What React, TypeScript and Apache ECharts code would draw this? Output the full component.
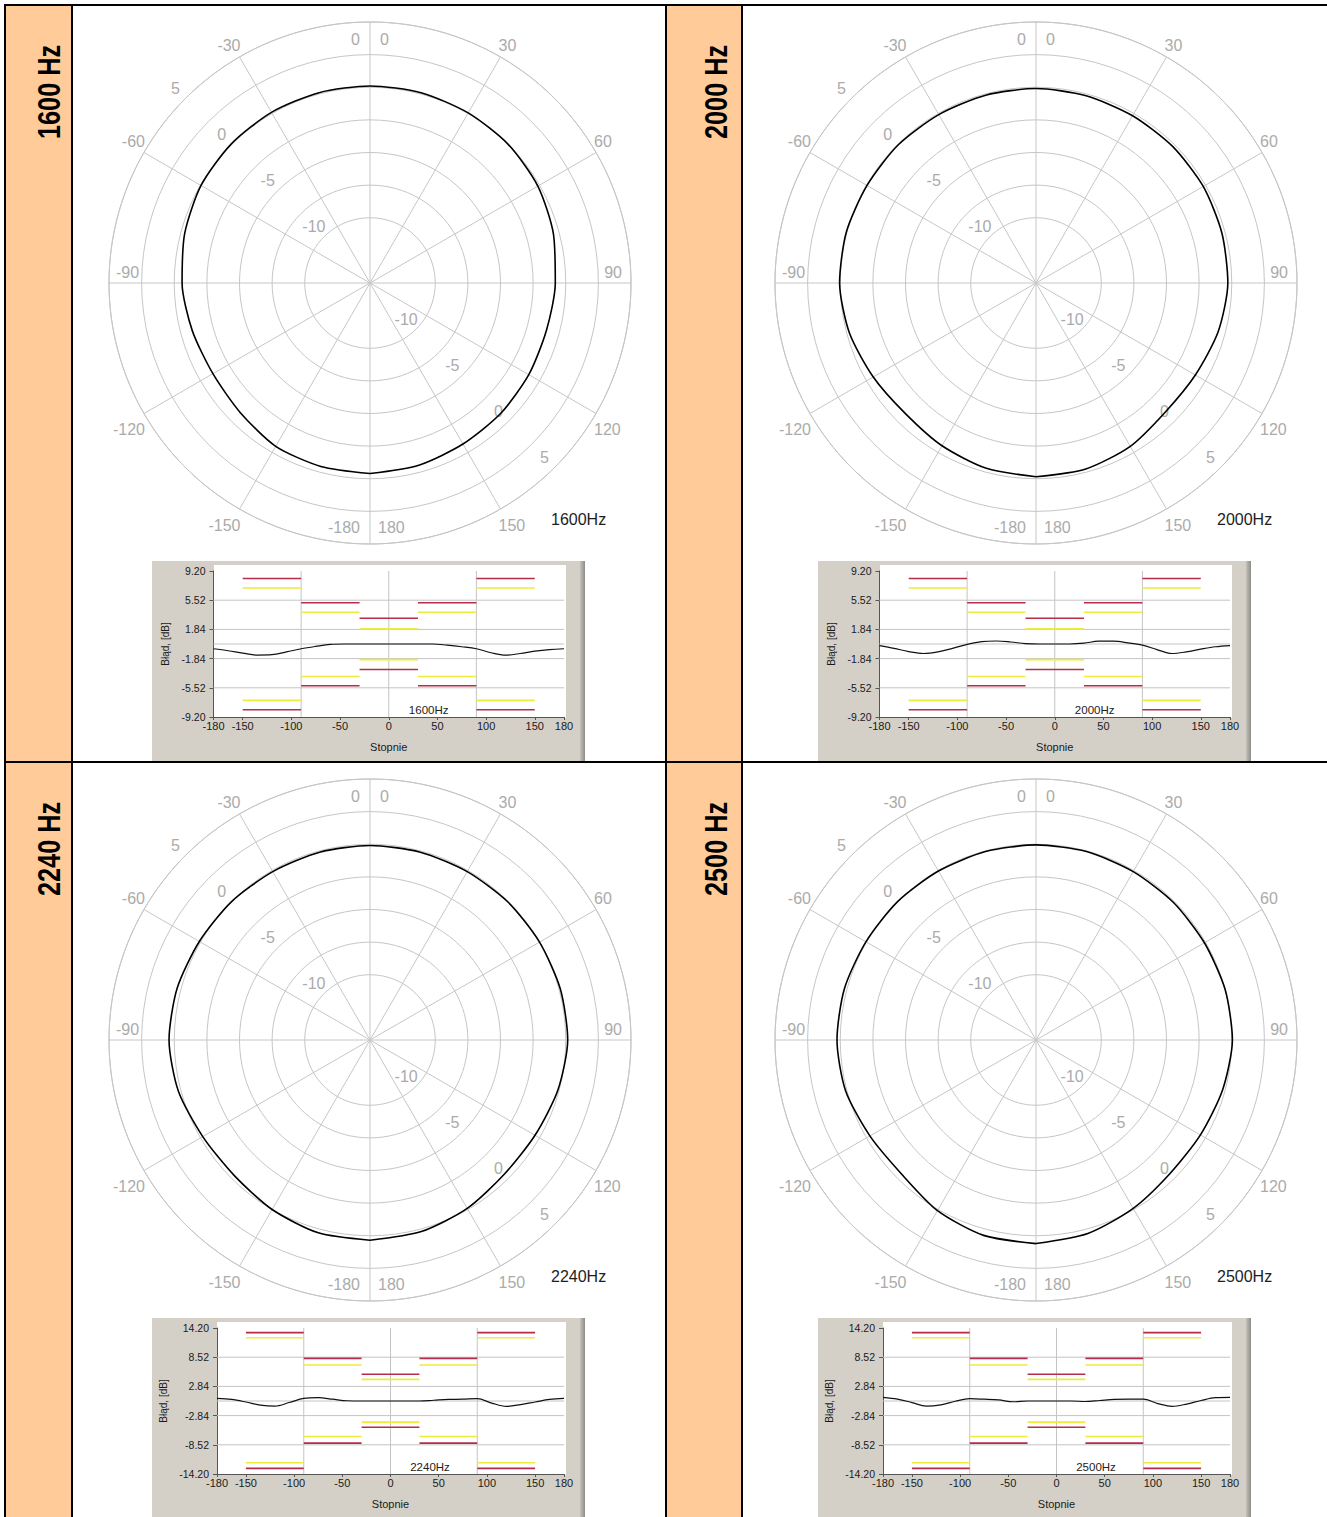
import React, { useEffect, useRef } from 'react';
import * as echarts from 'echarts';

// ---------- data ----------
const ANGLES = [-180, -165, -150, -135, -120, -105, -90, -75, -60, -45, -30, -15, 0, 15, 30, 45, 60, 75, 90, 105, 120, 135, 150, 165, 180];

const POLAR_1600 = [-0.4, -0.45, -0.55, -0.95, -1.1, -0.9, -0.6, -0.3, -0.05, 0.05, 0.1, 0.1, 0.1, 0.1, 0.05, 0.0, -0.15, -0.45, -0.8, -1.0, -0.95, -0.85, -0.75, -0.55, -0.4];
const POLAR_2000 = [-0.15, -0.3, -0.6, -0.85, -0.6, -0.2, 0.05, 0.05, -0.05, -0.05, -0.1, -0.1, -0.1, -0.15, -0.2, -0.2, -0.2, -0.25, -0.3, -0.55, -0.9, -1.0, -0.55, -0.25, -0.15];
const POLAR_2240 = [0.35, 0.3, 0.0, -0.3, -0.2, 0.2, 0.4, 0.3, 0.1, 0.0, -0.1, -0.1, -0.1, -0.1, -0.1, -0.05, 0.0, 0.1, 0.15, -0.1, -0.4, -0.45, -0.1, 0.2, 0.35];
const POLAR_2500 = [0.6, 0.5, 0.1, -0.45, -0.3, 0.1, 0.25, 0.2, 0.05, 0.0, -0.05, -0.05, -0.05, -0.05, -0.1, -0.1, -0.1, 0.0, 0.05, -0.2, -0.45, -0.5, -0.1, 0.35, 0.6];

const ERR_1600 = [-0.6, -0.85, -1.15, -1.4, -1.35, -1.0, -0.6, -0.3, -0.05, 0, 0, 0, 0, 0, 0, 0, -0.15, -0.35, -0.6, -1.1, -1.4, -1.2, -0.9, -0.7, -0.6];
const ERR_2000 = [-0.2, -0.55, -0.95, -1.2, -1.0, -0.55, -0.05, 0.3, 0.38, 0.25, 0.05, 0, 0, 0, 0.1, 0.35, 0.35, 0.15, -0.15, -0.7, -1.2, -1.0, -0.65, -0.35, -0.2];
const ERR_2240 = [0.5, 0.3, -0.2, -0.8, -1.0, -0.3, 0.5, 0.65, 0.35, 0.05, 0, 0, 0, 0, 0, 0.15, 0.3, 0.35, 0.45, -0.4, -1.05, -0.7, -0.2, 0.3, 0.5];
const ERR_2500 = [0.7, 0.35, -0.3, -1.0, -0.75, -0.05, 0.45, 0.35, 0.2, -0.15, 0, 0, 0, 0, -0.1, 0.1, 0.3, 0.35, 0.35, -0.5, -1.05, -0.6, 0.1, 0.65, 0.7];

const ANGLE_TICKS = [-150, -120, -90, -60, -30, 0, 30, 60, 90, 120, 150, 180];
const RING_LABELS = [-10, -5, 0, 5];
const X_TICKS = [-180, -150, -100, -50, 0, 50, 100, 150, 180];
const Y_TICKS_A = [-9.2, -5.52, -1.84, 1.84, 5.52, 9.2];
const Y_TICKS_B = [-14.2, -8.52, -2.84, 2.84, 8.52, 14.2];
const GRID_X = [-90, 0, 90];
const GRID_Y_A = [-5.52, -1.84, 0, 1.84, 5.52];
const GRID_Y_B = [-8.52, -2.84, 0, 2.84, 8.52];
const MASK_EDGES = [-150, -90, -30, 30, 90, 150];
const RED_UP_A = [8.25, 5.2, 3.25, 5.2, 8.25];
const YEL_UP_A = [7.05, 4.0, 1.9, 4.0, 7.05];
const YEL_LO_A = [-7.1, -4.1, -1.97, -4.1, -7.1];
const RED_LO_A = [-8.28, -5.27, -3.22, -5.27, -8.28];
const RED_UP_B = [13.3, 8.3, 5.2, 8.3, 13.3];
const YEL_UP_B = [12.3, 7.0, 4.2, 7.0, 12.3];
const YEL_LO_B = [-12.0, -6.9, -4.1, -6.9, -12.0];
const RED_LO_B = [-13.1, -8.2, -5.1, -8.2, -13.1];

const PANELS = [
  { freq: '1600', polar: POLAR_1600, err: ERR_1600, big: false, row: 0, col: 0 },
  { freq: '2000', polar: POLAR_2000, err: ERR_2000, big: false, row: 0, col: 1 },
  { freq: '2240', polar: POLAR_2240, err: ERR_2240, big: true, row: 1, col: 0 },
  { freq: '2500', polar: POLAR_2500, err: ERR_2500, big: true, row: 1, col: 1 },
];

// ---------- layout ----------
const FONT = 'Arial, "Liberation Sans", sans-serif';
const COLS = [{ x: 73, w: 592, tx: 33 }, { x: 743, w: 584, tx: 700 }];
const ROWS = [{ y: 6, h: 755 }, { y: 763, h: 754 }];
const R = 261;
const CY = 277;
const FRAME_T = 555;
const FRAME_W = 433;
const GRID_TOP_OFF = 10;
const GRID_H = 146;
const POLAR_GRID = '#c6c6c6';
const POLAR_LABEL = '#ababab';

function layout(w: number, big: boolean) {
  const cx = w / 2 + 1;
  const frameL = w / 2 - 217;
  const gLeft = frameL + (big ? 65 : 61.5);
  const gRight = frameL + 412;
  const gTop = FRAME_T + GRID_TOP_OFF;
  return { cx, frameL, gLeft, gRight, gTop };
}

function segs(vals: number[]) {
  const d: any[] = [];
  vals.forEach((v, i) => {
    d.push([MASK_EDGES[i], v], [MASK_EDGES[i + 1], v], [MASK_EDGES[i + 1], null]);
  });
  return d;
}

function txt(text: string, x: number, y: number, align: string, vAlign: string, color: string, size: number) {
  return {
    type: 'text',
    x,
    y,
    silent: true,
    style: {
      text,
      fill: color,
      fontSize: size,
      fontFamily: FONT,
      align,
      verticalAlign: vAlign,
      textAlign: align,
      textVerticalAlign: vAlign,
    },
  };
}

function buildOption(w: number, p: any) {
  const { cx, gLeft, gRight, gTop } = layout(w, p.big);
  const cy = CY;
  const yTicks = p.big ? Y_TICKS_B : Y_TICKS_A;
  const gridY = p.big ? GRID_Y_B : GRID_Y_A;
  const yMin = yTicks[0];
  const yMax = yTicks[yTicks.length - 1];
  const rad = Math.PI / 180;
  const toXY = (r: number, deg: number) => [cx + r * Math.sin(deg * rad), cy - r * Math.cos(deg * rad)];

  const graphics: any[] = [];
  ANGLE_TICKS.forEach((a) => {
    if (a === 0) {
      graphics.push(txt('0', cx - 10, cy - R + 9, 'right', 'top', POLAR_LABEL, 16));
      graphics.push(txt('0', cx + 10, cy - R + 9, 'left', 'top', POLAR_LABEL, 16));
    } else if (a === 180) {
      graphics.push(txt('-180', cx - 10, cy + R - 9, 'right', 'bottom', POLAR_LABEL, 16));
      graphics.push(txt('180', cx + 8, cy + R - 9, 'left', 'bottom', POLAR_LABEL, 16));
    } else if (a === 90) {
      graphics.push(txt('90', cx + R - 9, cy - 3, 'right', 'bottom', POLAR_LABEL, 16));
    } else if (a === -90) {
      graphics.push(txt('-90', cx - R + 7, cy - 3, 'left', 'bottom', POLAR_LABEL, 16));
    } else {
      const [px, py] = toXY(R, a);
      const s = Math.sin(a * rad);
      const c = Math.cos(a * rad);
      const align = s > 0 ? 'left' : 'right';
      const x = s > 0 ? px - 2 : px + 1;
      if (c > 0) graphics.push(txt(String(a), x, py - 3, align, 'bottom', POLAR_LABEL, 16));
      else graphics.push(txt(String(a), x, py + 8, align, 'top', POLAR_LABEL, 16));
    }
  });
  RING_LABELS.forEach((v) => {
    const r = ((v + 15) / 20) * R;
    [-45, 135].forEach((d) => {
      const [px, py] = toXY(r, d);
      graphics.push(txt(String(v), px - 10, py - 10, 'center', 'middle', POLAR_LABEL, 16));
    });
  });
  graphics.push(txt(p.freq + 'Hz', cx + 181, cy + 236, 'left', 'middle', '#1e1e1e', 16));
  const lx = gLeft + ((41 + 180) / 360) * (gRight - gLeft);
  graphics.push(txt(p.freq + 'Hz', lx, gTop + GRID_H - 7, 'center', 'middle', '#222', 11.5));

  const gridData: any[] = [];
  GRID_X.forEach((x) => gridData.push([x, yMin], [x, yMax], [x, null]));
  gridY.forEach((y) => gridData.push([-180, y], [180, y], [180, null]));

  const red = p.big ? segs(RED_UP_B).concat(segs(RED_LO_B)) : segs(RED_UP_A).concat(segs(RED_LO_A));
  const yel = p.big ? segs(YEL_UP_B).concat(segs(YEL_LO_B)) : segs(YEL_UP_A).concat(segs(YEL_LO_A));

  const axisText = { color: '#1a1a1a', fontSize: 11, fontFamily: FONT };

  return {
    animation: false,
    polar: { center: [cx, cy], radius: R },
    angleAxis: {
      type: 'value',
      min: -180,
      max: 180,
      interval: 30,
      startAngle: 270,
      clockwise: true,
      axisLine: { show: true, lineStyle: { color: POLAR_GRID, width: 1 } },
      axisTick: { show: false },
      axisLabel: { show: false },
      splitLine: { show: true, lineStyle: { color: POLAR_GRID, width: 1 } },
    },
    radiusAxis: {
      type: 'value',
      min: -15,
      max: 5,
      interval: 2.5,
      axisLine: { show: false },
      axisTick: { show: false },
      axisLabel: { show: false },
      splitLine: {
        show: true,
        lineStyle: {
          color: ['rgba(0,0,0,0)', 'rgba(0,0,0,0)', POLAR_GRID, POLAR_GRID, POLAR_GRID, POLAR_GRID, POLAR_GRID, POLAR_GRID, POLAR_GRID],
          width: 1,
        },
      },
    },
    grid: { left: gLeft, top: gTop, width: gRight - gLeft, height: GRID_H, show: false },
    xAxis: {
      type: 'value',
      min: -180,
      max: 180,
      name: 'Stopnie',
      nameLocation: 'middle',
      nameGap: 24,
      nameTextStyle: axisText,
      axisLine: { show: true, onZero: false, lineStyle: { color: '#555', width: 1 } },
      axisTick: { show: true, length: 3, customValues: X_TICKS, lineStyle: { color: '#555' } },
      axisLabel: { show: true, customValues: X_TICKS, margin: 3, ...axisText },
      splitLine: { show: false },
    },
    yAxis: {
      type: 'value',
      min: yMin,
      max: yMax,
      name: 'Błąd, [dB]',
      nameLocation: 'middle',
      nameGap: 36,
      nameTextStyle: { ...axisText, fontSize: 10 },
      axisLine: { show: true, onZero: false, lineStyle: { color: '#555', width: 1 } },
      axisTick: { show: true, length: 4, customValues: yTicks, lineStyle: { color: '#555' } },
      axisLabel: {
        show: true,
        customValues: yTicks,
        margin: 8,
        formatter: (v: number) => v.toFixed(2),
        ...axisText,
        fontSize: 10.5,
      },
      splitLine: { show: false },
    },
    graphic: graphics,
    series: [
      {
        type: 'line',
        coordinateSystem: 'polar',
        data: ANGLES.map((a, i) => [p.polar[i], a]),
        smooth: 0.25,
        symbol: 'none',
        lineStyle: { color: '#000', width: 1.6 },
        silent: true,
      },
      {
        type: 'line',
        data: gridData,
        symbol: 'none',
        lineStyle: { color: '#c4c4c4', width: 1 },
        silent: true,
      },
      {
        type: 'line',
        data: yel,
        symbol: 'none',
        lineStyle: { color: '#ecec3c', width: 1.6 },
        silent: true,
      },
      {
        type: 'line',
        data: red,
        symbol: 'none',
        lineStyle: { color: '#b52d4b', width: 1.6 },
        silent: true,
      },
      {
        type: 'line',
        data: ANGLES.map((a, i) => [a, p.err[i]]),
        smooth: 0.35,
        symbol: 'none',
        lineStyle: { color: '#111', width: 1.2 },
        silent: true,
      },
    ],
  };
}

function Cell({ p }: { p: any }) {
  const ref = useRef<HTMLDivElement>(null);
  const col = COLS[p.col];
  const row = ROWS[p.row];
  const { frameL, gLeft, gRight, gTop } = layout(col.w, p.big);
  useEffect(() => {
    const chart = echarts.init(ref.current as HTMLDivElement, null, { renderer: 'svg' });
    chart.setOption(buildOption(col.w, p));
    return () => chart.dispose();
  }, []);
  return (
    <div style={{ position: 'absolute', left: col.x, top: row.y, width: col.w, height: row.h, overflow: 'hidden' }}>
      <div style={{ position: 'absolute', left: frameL, top: FRAME_T, width: FRAME_W, height: row.h - FRAME_T, background: '#d4d0c8' }} />
      <div
        style={{
          position: 'absolute',
          left: frameL + FRAME_W - 5,
          top: FRAME_T,
          width: 5,
          height: row.h - FRAME_T,
          background: 'linear-gradient(to right, #c4c1ba, #8e8c88)',
        }}
      />
      <div
        style={{
          position: 'absolute',
          left: gLeft,
          top: FRAME_T + 4,
          width: gRight - gLeft + 2,
          height: gTop + GRID_H + 1 - (FRAME_T + 4),
          background: '#ffffff',
        }}
      />
      <div ref={ref} style={{ position: 'absolute', left: 0, top: 0, width: col.w, height: row.h }} />
    </div>
  );
}

function Title({ text, x, y }: { text: string; x: number; y: number }) {
  return (
    <div
      style={{
        position: 'absolute',
        left: x,
        top: y,
        transformOrigin: '0 0',
        transform: 'rotate(-90deg) scaleX(0.79)',
        fontFamily: FONT,
        fontWeight: 'bold',
        fontSize: 32,
        lineHeight: '32px',
        whiteSpace: 'nowrap',
        color: '#000',
      }}
    >
      {text}
    </div>
  );
}

export default function App() {
  const black = '#000';
  const lines = [
    { left: 4, top: 4, width: 1323, height: 2 },
    { left: 4, top: 4, width: 2, height: 1513 },
    { left: 71, top: 4, width: 2, height: 1513 },
    { left: 665, top: 4, width: 2, height: 1513 },
    { left: 741, top: 4, width: 2, height: 1513 },
    { left: 4, top: 761, width: 1323, height: 2 },
  ];
  const oranges = [
    { left: 6, width: 65 },
    { left: 667, width: 74 },
  ];
  return (
    <div style={{ position: 'absolute', left: 0, top: 0, width: 1327, height: 1517, background: '#fff', overflow: 'hidden' }}>
      {oranges.map((o, i) =>
        ROWS.map((r, j) => (
          <div key={`o${i}${j}`} style={{ position: 'absolute', left: o.left, width: o.width, top: r.y, height: r.h, background: '#ffcc99' }} />
        ))
      )}
      {PANELS.map((p) => (
        <Title key={`t${p.freq}`} text={`${p.freq} Hz`} x={COLS[p.col].tx} y={ROWS[p.row].y + 133} />
      ))}
      {PANELS.map((p) => (
        <Cell key={p.freq} p={p} />
      ))}
      {lines.map((l, i) => (
        <div key={`l${i}`} style={{ position: 'absolute', ...l, background: black }} />
      ))}
    </div>
  );
}
